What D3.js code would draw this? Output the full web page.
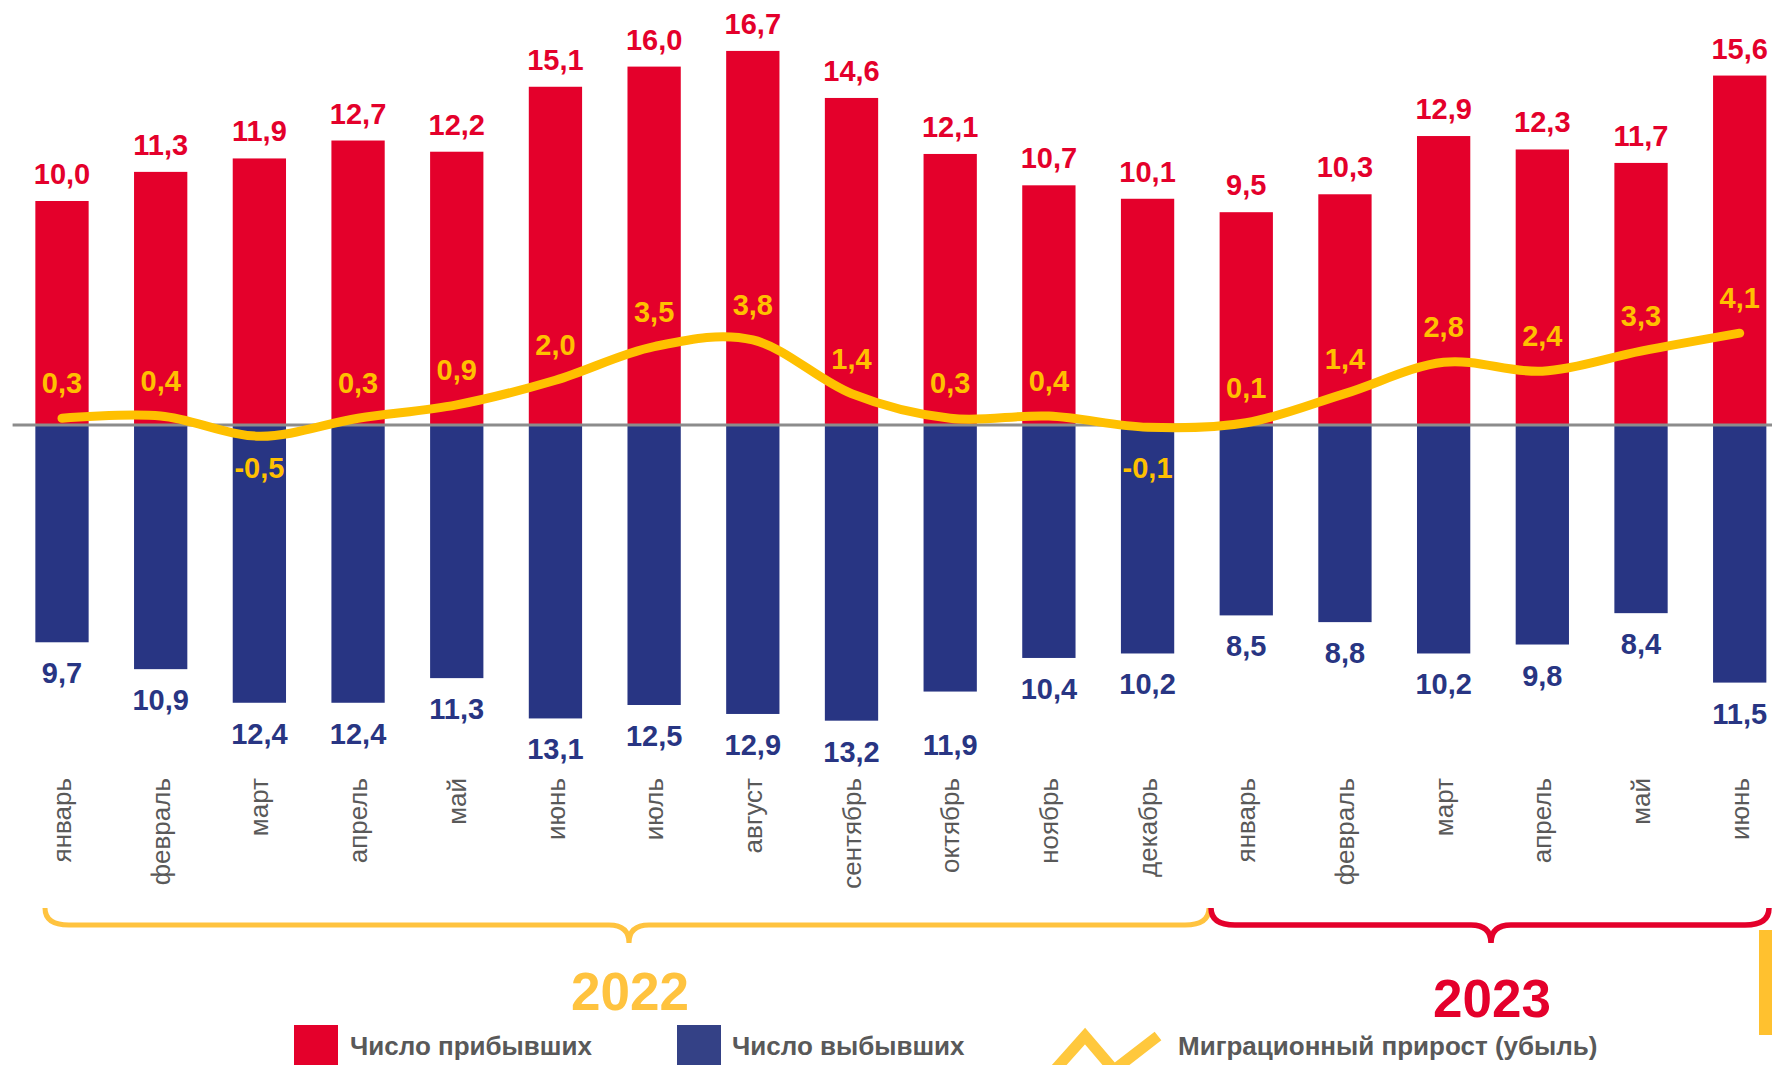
<!DOCTYPE html>
<html>
<head>
<meta charset="utf-8">
<script src="https://cdn.jsdelivr.net/npm/d3@7"></script>
<style>
  html, body { margin: 0; padding: 0; background: #fff; }
  svg { display: block; font-family: "Liberation Sans", Arial, sans-serif; }
</style>
</head>
<body>
<svg id="chart" width="1772" height="1065"></svg>
<script>
const months = ["январь","февраль","март","апрель","май","июнь","июль","август","сентябрь","октябрь","ноябрь","декабрь",
                "январь","февраль","март","апрель","май","июнь"];
const arrivals = [10.0,11.3,11.9,12.7,12.2,15.1,16.0,16.7,14.6,12.1,10.7,10.1,9.5,10.3,12.9,12.3,11.7,15.6];
const departures = [9.7,10.9,12.4,12.4,11.3,13.1,12.5,12.9,13.2,11.9,10.4,10.2,8.5,8.8,10.2,9.8,8.4,11.5];
const netMigration = [0.3,0.4,-0.5,0.3,0.9,2.0,3.5,3.8,1.4,0.3,0.4,-0.1,0.1,1.4,2.8,2.4,3.3,4.1];
const years = ["2022", "2023"];
const yearSpans = [[0, 11], [12, 17]];
const legendLabels = ["Число прибывших", "Число выбывших", "Миграционный прирост (убыль)"];

const RED = "#E4002B", BLUE = "#283583", YELLOW = "#FFC000", BRACE_YELLOW = "#FFC33F", GRAY = "#595959";
const fmt = v => v.toFixed(1).replace(".", ",");

const svg = d3.select("#chart");
const idx = d3.range(months.length);

const x = d3.scaleBand().domain(idx).range([12.65, 1789.05]).paddingInner(0.46).paddingOuter(0.23);
const y = d3.scaleLinear().domain([0, 10]).range([425, 201]);
const cx = i => x(i) + x.bandwidth() / 2;

// bars
svg.append("g").selectAll("rect").data(arrivals).join("rect")
  .attr("x", (d, i) => x(i)).attr("width", x.bandwidth())
  .attr("y", d => y(d)).attr("height", d => y(0) - y(d))
  .attr("fill", RED);
svg.append("g").selectAll("rect").data(departures).join("rect")
  .attr("x", (d, i) => x(i)).attr("width", x.bandwidth())
  .attr("y", y(0)).attr("height", d => y(-d) - y(0))
  .attr("fill", BLUE);

// zero line
svg.append("line").attr("x1", 12.6).attr("x2", 1772).attr("y1", y(0)).attr("y2", y(0))
  .attr("stroke", "#8C8C8C").attr("stroke-width", 3);

// net migration line
const line = d3.line().x((d, i) => cx(i)).y(d => y(d)).curve(d3.curveCatmullRom.alpha(0));
svg.append("path").datum(netMigration).attr("d", line)
  .attr("fill", "none").attr("stroke", YELLOW).attr("stroke-width", 9)
  .attr("stroke-linecap", "round").attr("stroke-linejoin", "round");

// labels
const labelFont = 29;
svg.append("g").selectAll("text").data(arrivals).join("text")
  .attr("x", (d, i) => cx(i)).attr("y", d => y(d) - 17)
  .attr("text-anchor", "middle").attr("font-size", labelFont).attr("font-weight", "bold")
  .attr("fill", RED).text(fmt);

const extraDown = {9: 22};
svg.append("g").selectAll("text").data(departures).join("text")
  .attr("x", (d, i) => cx(i)).attr("y", (d, i) => y(-d) + 41 + (extraDown[i] || 0))
  .attr("text-anchor", "middle").attr("font-size", labelFont).attr("font-weight", "bold")
  .attr("fill", BLUE).text(fmt);

svg.append("g").selectAll("text").data(netMigration).join("text")
  .attr("x", (d, i) => cx(i)).attr("y", d => d >= 0 ? y(d) - 25 : y(0) + 53)
  .attr("text-anchor", "middle").attr("font-size", labelFont).attr("font-weight", "bold")
  .attr("fill", YELLOW).text(fmt);

// month labels
svg.append("g").selectAll("text").data(months).join("text")
  .attr("transform", (d, i) => `translate(${cx(i)},778) rotate(-90)`)
  .attr("dy", "0.35em").attr("text-anchor", "end")
  .attr("font-size", 26).attr("fill", GRAY).text(d => d);

// braces
function brace(x0, x1, xt, yTop, yH, yTip, r, rt) {
  return `M${x0},${yTop} Q${x0},${yH} ${x0 + r},${yH} L${xt - rt},${yH} Q${xt},${yH} ${xt},${yTip}` +
         ` Q${xt},${yH} ${xt + rt},${yH} L${x1 - r},${yH} Q${x1},${yH} ${x1},${yTop}`;
}
const braceColors = [BRACE_YELLOW, RED];
const yearColors = [BRACE_YELLOW, RED];
const yearBaselines = [1010, 1017];
yearSpans.forEach((s, k) => {
  const x0 = k === 0 ? 45 : 1211;
  const x1 = k === 0 ? 1209 : 1769;
  const xt = k === 0 ? 629 : 1491;
  svg.append("path").attr("d", brace(x0, x1, xt, 908, 925, 943, 24, 20))
    .attr("fill", "none").attr("stroke", braceColors[k]).attr("stroke-width", k === 0 ? 5 : 5.5);
  svg.append("text").attr("x", xt + 1).attr("y", yearBaselines[k])
    .attr("text-anchor", "middle").attr("font-size", 53).attr("font-weight", "bold")
    .attr("fill", yearColors[k]).text(years[k]);
});

// right-edge decoration
svg.append("rect").attr("x", 1759).attr("y", 930).attr("width", 13).attr("height", 105).attr("fill", "#FFC12F");

// legend
svg.append("rect").attr("x", 294).attr("y", 1025).attr("width", 44).attr("height", 45).attr("fill", RED);
svg.append("rect").attr("x", 677).attr("y", 1025).attr("width", 44).attr("height", 45).attr("fill", "#344186");
svg.append("path").attr("d", "M1053,1072 L1085,1036 L1114,1070 L1158,1036")
  .attr("fill", "none").attr("stroke", "#FFC83D").attr("stroke-width", 11).attr("stroke-linejoin", "miter");
const legX = [350, 732, 1178];
legendLabels.forEach((t, k) => {
  svg.append("text").attr("x", legX[k]).attr("y", 1055)
    .attr("font-size", 26).attr("font-weight", "bold").attr("fill", GRAY).text(t);
});
</script>
</body>
</html>
